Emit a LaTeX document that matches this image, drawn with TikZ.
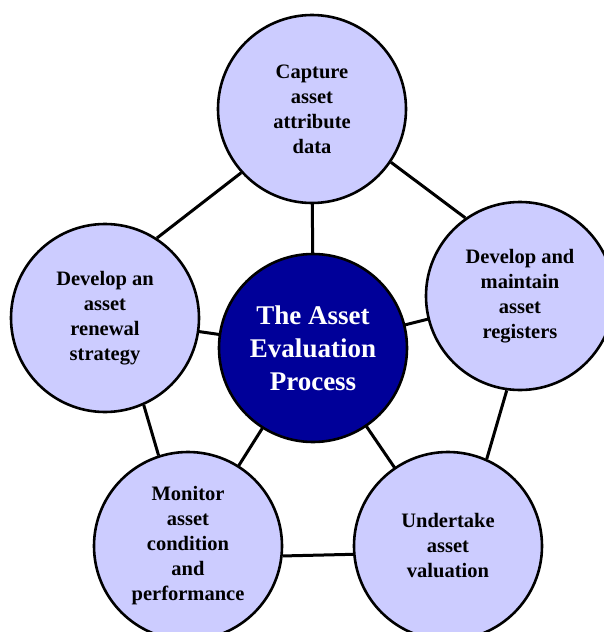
\documentclass[tikz,border=0pt]{standalone}
\usepackage{fontspec}
\setmainfont{Liberation Serif}
\usetikzlibrary{backgrounds}
\definecolor{stepfill}{HTML}{CCCCFF}
\definecolor{hubfill}{HTML}{000099}
\tikzset{
  stepcircle/.style={circle, draw=black, line width=2.6pt, fill=stepfill,
    minimum size=188pt, inner sep=0pt, align=center,
    font=\bfseries\fontsize{20.5}{25}\selectfont, text=black},
  hubcircle/.style={circle, draw=black, line width=2.6pt, fill=hubfill,
    minimum size=188pt, inner sep=0pt, align=center,
    font=\bfseries\fontsize{27}{33}\selectfont, text=white},
  link/.style={draw=black, line width=3pt}
}
\begin{document}
\begin{tikzpicture}[x=1pt,y=-1pt]
  \useasboundingbox (0,0) rectangle (604,632);
  \clip (0,0) rectangle (604,632);
  % hub and the five process steps
  \node[hubcircle]  (hub)      at (313,348) {The Asset\\Evaluation\\Process};
  \node[stepcircle] (capture)  at (312,109) {Capture\\asset\\attribute\\data};
  \node[stepcircle] (register) at (520,296) {Develop and\\maintain\\asset\\registers};
  \node[stepcircle] (value)    at (448,546) {Undertake\\asset\\valuation};
  \node[stepcircle] (monitor)  at (188,546) {Monitor\\asset\\condition\\and\\performance};
  \node[stepcircle] (renew)    at (105,318) {Develop an\\asset\\renewal\\strategy};
  \begin{pgfonlayer}{background}
    % spokes from the hub
    \foreach \n in {capture,register,value,monitor,renew}
      \draw[link] (hub.center) -- (\n.center);
    % outer ring between neighbouring steps
    \draw[link] (capture.326)   -- (register.125.5);
    \draw[link] (register.262)  -- (value.66);
    \draw[link] (value.185.5)   -- (monitor.354.5);
    \draw[link] (monitor.108)   -- (renew.294);
    \draw[link] (renew.57)      -- (capture.222);
  \end{pgfonlayer}
\end{tikzpicture}
\end{document}
